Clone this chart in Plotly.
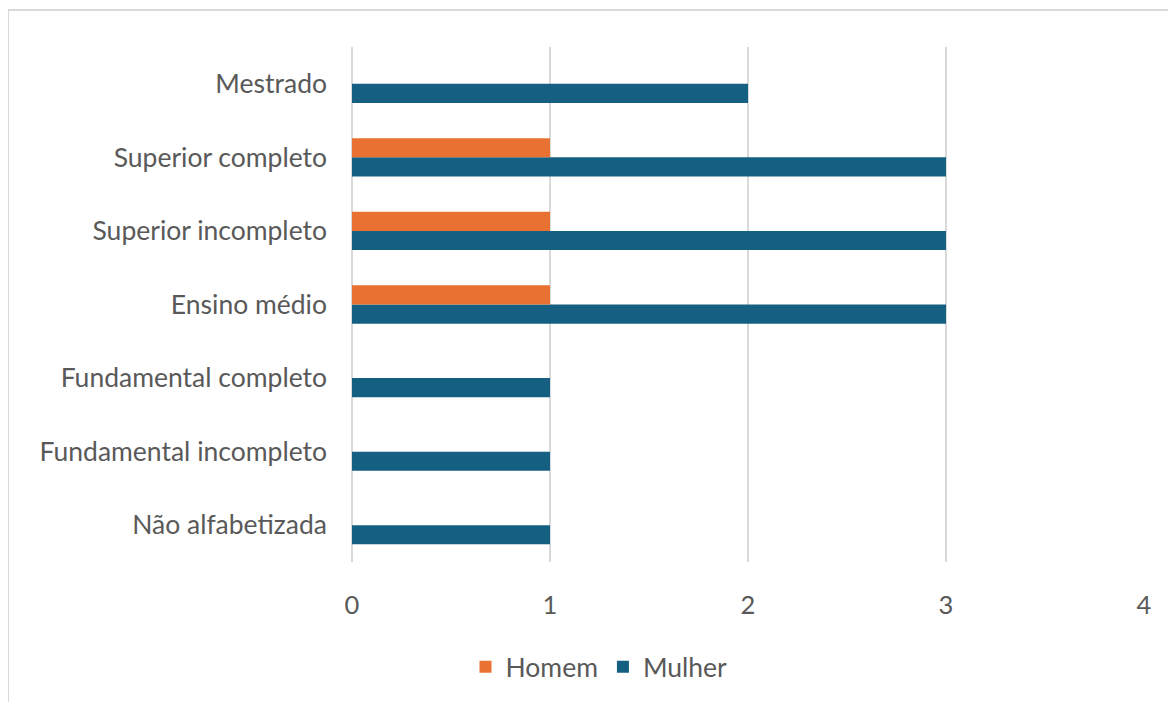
import plotly.graph_objects as go

categories = ["Não alfabetizada", "Fundamental incompleto", "Fundamental completo",
              "Ensino médio", "Superior incompleto", "Superior completo", "Mestrado"]
homem = [0, 0, 0, 1, 1, 1, 0]
mulher = [1, 1, 1, 3, 3, 3, 2]
x_ticks = [0, 1, 2, 3, 4]

OFF = 8  # browser body margin
W, H = 1168, 694
L, R, T, B = 352 - OFF, W - (1144 - OFF), 47 - OFF, H - (563 - OFF)
pw, ph = W - L - R, H - T - B

def px_x(p):
    return (p - OFF - L) / pw

def px_y(p):
    return (H - B - (p - OFF)) / ph

fig = go.Figure()
fig.add_trace(go.Bar(y=categories, x=mulher, name="Mulher", orientation="h",
                     marker=dict(color="#156082", line=dict(width=0))))
fig.add_trace(go.Bar(y=categories, x=homem, name="Homem", orientation="h",
                     marker=dict(color="#E97132", line=dict(width=0))))

font_family = "Lato"
fs = 26.5
fig.update_layout(
    width=W, height=H,
    margin=dict(l=L, r=R, t=T, b=B),
    paper_bgcolor="white", plot_bgcolor="white",
    barmode="group", bargap=0.48, bargroupgap=0,
    font=dict(family=font_family, color="#595959", size=fs),
    xaxis=dict(range=[0, 4], tickvals=x_ticks, showgrid=True, gridcolor="#d9d9d9",
               gridwidth=2, zeroline=True, zerolinecolor="#d9d9d9", zerolinewidth=2,
               showline=False, ticks="", ticklabelstandoff=25,
               tickfont=dict(size=fs - 1, color="#595959")),
    yaxis=dict(categoryorder="array", categoryarray=categories, showgrid=False,
               zeroline=False, showline=False, ticks="", ticklabelstandoff=24,
               tickfont=dict(size=fs, color="#595959")),
    legend=dict(orientation="h", traceorder="reversed", x=px_x(599), xanchor="center",
                y=px_y(667), yanchor="middle", font=dict(size=fs, color="#595959"),
                itemwidth=30),
    showlegend=True,
    shapes=[
        dict(type="line", xref="paper", yref="paper", x0=px_x(8), x1=px_x(1180),
             y0=px_y(10), y1=px_y(10), line=dict(color="#d9d9d9", width=2)),
        dict(type="line", xref="paper", yref="paper", x0=px_x(8), x1=px_x(8),
             y0=px_y(10), y1=px_y(715), line=dict(color="#d9d9d9", width=2)),
    ],
)

fig.write_html("out.html")
